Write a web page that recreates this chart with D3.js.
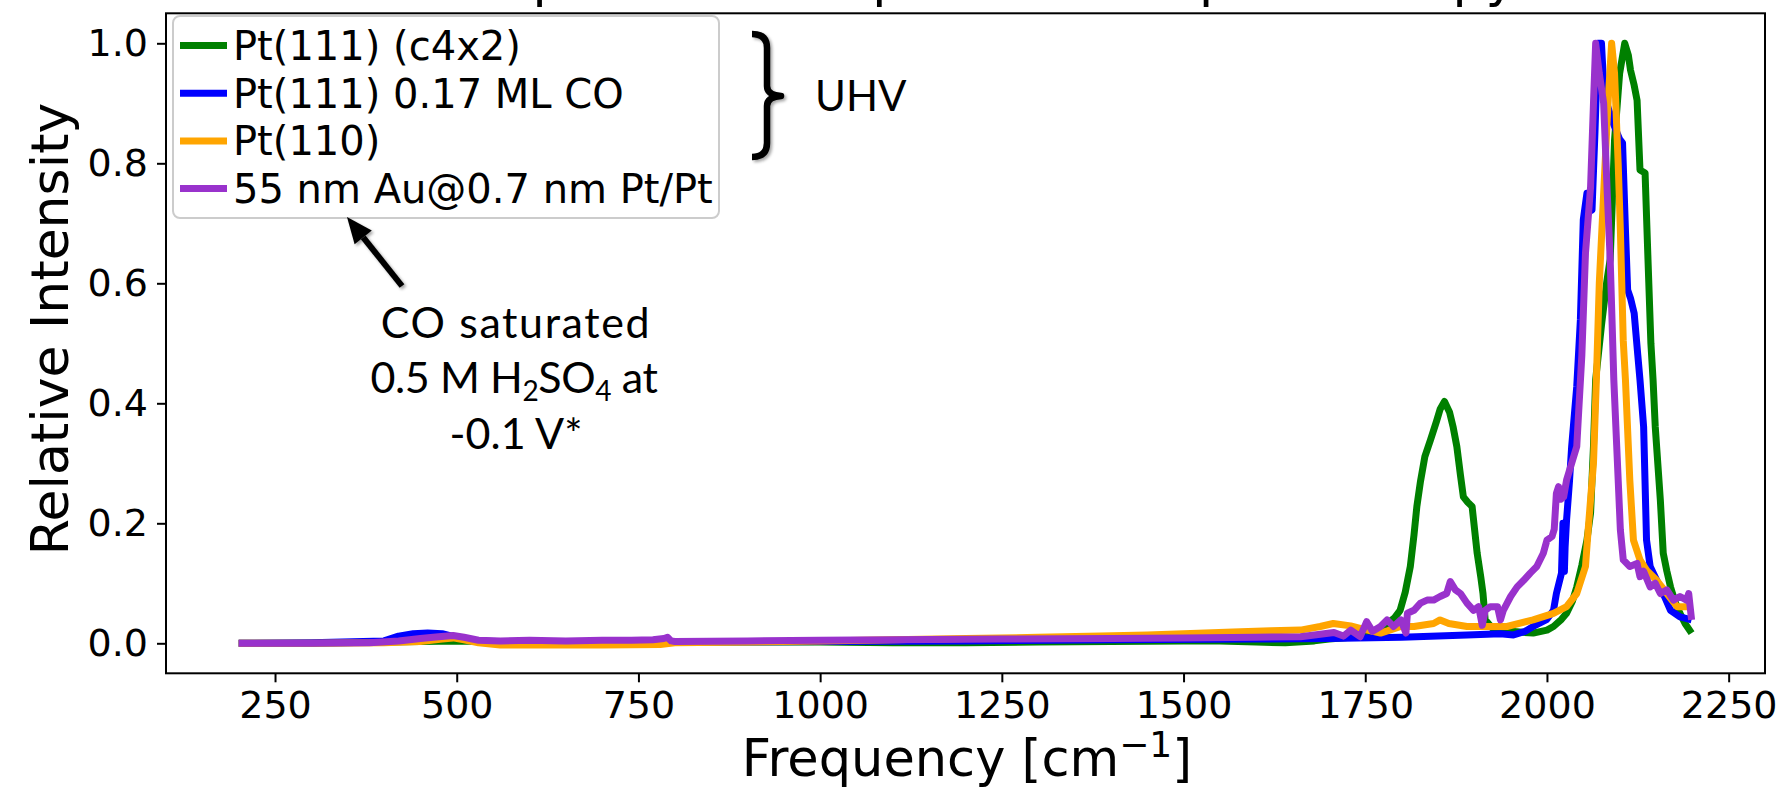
<!DOCTYPE html>
<html>
<head>
<meta charset="utf-8">
<script src="https://cdn.jsdelivr.net/npm/d3@7/dist/d3.min.js"></script>
<style>
  html, body { margin: 0; padding: 0; background: #fff; }
  svg { display: block; }
</style>
</head>
<body>
<svg id="chart" width="1782" height="797"></svg>
<script>
// Series: [frequency (cm^-1), relative intensity]
const c4x2Series = [
  [200,0],[300,0],[400,0.002],[450,0.003],[500,0.004],[550,0.003],[600,0.002],[700,0.002],
  [800,0.002],[900,0.002],[1000,0.002],[1100,0.001],[1200,0.001],[1300,0.002],[1400,0.003],
  [1500,0.004],[1550,0.004],[1600,0.002],[1640,0.001],[1680,0.004],[1700,0.007],[1730,0.010],
  [1752,0.014],[1775,0.028],[1790,0.042],[1798,0.055],[1805,0.085],[1812,0.128],[1817,0.18],
  [1821,0.228],[1826,0.27],[1832,0.311],[1840,0.34],[1848,0.37],[1853,0.39],[1859,0.403],
  [1866,0.385],[1871,0.36],[1876,0.328],[1881,0.28],[1885,0.244],[1891,0.235],[1897,0.228],
  [1904,0.15],[1909,0.11],[1912,0.083],[1915,0.039],[1925,0.025],[1950,0.02],[1981,0.017],
  [2000,0.022],[2009,0.028],[2020,0.04],[2027,0.05],[2035,0.07],[2041,0.094],[2048,0.13],
  [2055,0.172],[2060,0.217],[2064,0.328],[2067,0.439],[2075,0.53],[2082,0.6],[2087,0.64],
  [2093,0.839],[2100,0.95],[2107,1.0],[2112,0.98],[2115,0.955],[2120,0.93],[2124,0.905],
  [2128,0.789],[2135,0.784],[2139,0.64],[2143,0.5],[2146,0.439],[2149,0.361],[2156,0.239],
  [2160,0.15],[2165,0.12],[2170,0.094],[2176,0.07],[2183,0.05],[2190,0.033],[2199,0.017]
];

const lowCovSeries = [
  [200,0],[300,0.001],[400,0.004],[420,0.012],[440,0.016],[460,0.017],[480,0.016],[500,0.01],
  [520,0.004],[600,0.002],[800,0.002],[1000,0.003],[1200,0.004],[1400,0.006],[1600,0.007],
  [1700,0.008],[1800,0.01],[1890,0.014],[1936,0.016],[1954,0.014],[1970,0.02],[1981,0.028],
  [2000,0.04],[2009,0.055],[2013,0.083],[2020,0.117],[2022,0.2],[2024,0.12],[2025,0.161],
  [2027,0.206],[2031,0.27],[2034,0.328],[2041,0.428],[2046,0.539],[2050,0.706],[2055,0.75],
  [2062,0.722],[2066,0.85],[2070,1.0],[2075,1.0],[2078,0.93],[2081,0.905],[2090,0.87],
  [2100,0.84],[2104,0.834],[2108,0.689],[2111,0.589],[2115,0.575],[2120,0.55],[2125,0.48],
  [2128,0.439],[2133,0.361],[2137,0.172],[2142,0.128],[2151,0.105],[2160,0.083],[2170,0.055],
  [2183,0.044],[2199,0.039]
];

const pt110Series = [
  [200,0],[300,0],[400,0.001],[450,0.003],[480,0.007],[495,0.009],[510,0.006],[530,0.001],
  [560,-0.003],[600,-0.003],[700,-0.003],[780,-0.002],[800,0.001],[900,0.002],[1000,0.004],
  [1100,0.006],[1200,0.008],[1300,0.01],[1386,0.012],[1450,0.014],[1500,0.016],[1568,0.019],
  [1620,0.021],[1661,0.022],[1688,0.028],[1706,0.033],[1730,0.029],[1743,0.025],[1771,0.017],
  [1799,0.028],[1817,0.028],[1844,0.033],[1853,0.039],[1865,0.033],[1890,0.028],[1913,0.028],
  [1945,0.028],[1981,0.039],[2009,0.05],[2027,0.061],[2041,0.083],[2053,0.128],[2057,0.194],
  [2064,0.3],[2068,0.44],[2072,0.6],[2078,0.75],[2084,0.9],[2089,1.0],[2093,0.95],[2098,0.8],
  [2101,0.689],[2105,0.504],[2108,0.439],[2114,0.272],[2119,0.172],[2128,0.139],[2137,0.122],
  [2151,0.105],[2165,0.083],[2179,0.061],[2199,0.061]
];

const auPtSeries = [
  [200,0],[300,0],[380,0.001],[420,0.004],[450,0.008],[475,0.011],[495,0.013],[510,0.01],
  [530,0.005],[560,0.004],[600,0.005],[650,0.004],[700,0.005],[740,0.005],[770,0.006],
  [785,0.008],[790,0.01],[795,0.004],[800,0.003],[900,0.004],[1000,0.005],[1100,0.006],
  [1250,0.007],[1400,0.008],[1500,0.009],[1600,0.01],[1661,0.011],[1707,0.018],[1720,0.012],
  [1730,0.022],[1743,0.011],[1752,0.036],[1760,0.02],[1771,0.028],[1780,0.039],[1789,0.028],
  [1799,0.039],[1806,0.017],[1808,0.05],[1817,0.055],[1826,0.067],[1835,0.072],[1844,0.072],
  [1853,0.078],[1862,0.083],[1867,0.103],[1874,0.089],[1881,0.083],[1890,0.067],[1899,0.055],
  [1906,0.061],[1911,0.03],[1915,0.055],[1922,0.061],[1932,0.061],[1936,0.039],[1940,0.055],
  [1950,0.078],[1959,0.094],[1968,0.105],[1977,0.117],[1986,0.128],[1995,0.15],[2000,0.172],
  [2007,0.178],[2010,0.19],[2013,0.25],[2016,0.261],[2019,0.24],[2023,0.244],[2027,0.272],
  [2034,0.3],[2041,0.328],[2043,0.372],[2048,0.48],[2053,0.65],[2060,0.76],[2064,0.9],
  [2067,1.0],[2072,0.95],[2078,0.9],[2083,0.75],[2087,0.64],[2092,0.439],[2096,0.328],
  [2101,0.189],[2105,0.139],[2114,0.128],[2124,0.133],[2128,0.111],[2133,0.12],[2142,0.094],
  [2149,0.1],[2156,0.083],[2165,0.089],[2174,0.072],[2183,0.078],[2192,0.072],[2195,0.083],
  [2199,0.039]
];

const seriesNames = ["Pt(111) (c4x2)", "Pt(111) 0.17 ML CO", "Pt(110)", "55 nm Au@0.7 nm Pt/Pt"];
const seriesColors = ["green", "blue", "orange", "darkorchid"];
const seriesData = [c4x2Series, lowCovSeries, pt110Series, auPtSeries];

const xTicks = [250, 500, 750, 1000, 1250, 1500, 1750, 2000, 2250];
const yTicks = [0.0, 0.2, 0.4, 0.6, 0.8, 1.0];

const svg = d3.select("#chart");

const x = d3.scaleLinear().domain([100, 2300]).range([166, 1765]);
const y = d3.scaleLinear().domain([-0.05, 1.05]).range([673.3, 13.3]);

const defs = svg.append("defs");
defs.append("clipPath").attr("id", "plotClip")
  .append("rect")
  .attr("x", x.range()[0]).attr("y", y.range()[1])
  .attr("width", x.range()[1] - x.range()[0])
  .attr("height", y.range()[0] - y.range()[1]);

const shadow = defs.append("filter").attr("id", "softShadow")
  .attr("x", "-50%").attr("y", "-50%").attr("width", "200%").attr("height", "200%");
shadow.append("feDropShadow")
  .attr("dx", 2).attr("dy", 2).attr("stdDeviation", 1.6)
  .attr("flood-color", "#000").attr("flood-opacity", 0.35);

// Heading, mostly above the top edge of the figure
svg.append("text")
  .attr("x", 965).attr("y", -4)
  .attr("text-anchor", "middle")
  .attr("font-family", "DejaVu Sans")
  .attr("font-size", 52)
  .text("Comparison to experimental spectroscopy");

// Spectra
const line = d3.line().x(d => x(d[0])).y(d => y(d[1]));
const plot = svg.append("g").attr("clip-path", "url(#plotClip)");
seriesData.forEach((s, i) => {
  plot.append("path")
    .datum(s)
    .attr("d", line)
    .attr("fill", "none")
    .attr("stroke", seriesColors[i])
    .attr("stroke-width", 7)
    .attr("stroke-linejoin", "round")
    .attr("stroke-linecap", "butt");
});

// Axes
const xAxis = d3.axisBottom(x).tickValues(xTicks).tickSize(9).tickPadding(9).tickFormat(d3.format("d"));
const yAxis = d3.axisLeft(y).tickValues(yTicks).tickSize(9).tickPadding(9).tickFormat(d3.format(".1f"));

const gx = svg.append("g").attr("transform", `translate(0,${y.range()[0]})`).call(xAxis);
const gy = svg.append("g").attr("transform", `translate(${x.range()[0]},0)`).call(yAxis);
[gx, gy].forEach(g => {
  g.select(".domain").remove();
  g.selectAll(".tick line").attr("stroke", "#000").attr("stroke-width", 2);
  g.selectAll(".tick text")
    .attr("font-family", "DejaVu Sans")
    .attr("font-size", 38)
    .attr("fill", "#000");
});

// Frame
svg.append("rect")
  .attr("x", x.range()[0]).attr("y", y.range()[1])
  .attr("width", x.range()[1] - x.range()[0])
  .attr("height", y.range()[0] - y.range()[1])
  .attr("fill", "none").attr("stroke", "#000").attr("stroke-width", 2);

// Axis labels
const xl = svg.append("text")
  .attr("x", 967).attr("y", 776)
  .attr("text-anchor", "middle")
  .attr("font-family", "DejaVu Sans")
  .attr("font-size", 51);
xl.append("tspan").text("Frequency [cm");
xl.append("tspan").attr("font-size", 36).attr("dy", -19).text("\u22121");
xl.append("tspan").attr("dy", 19).text("]");

svg.append("text")
  .attr("transform", "translate(68,329) rotate(-90)")
  .attr("text-anchor", "middle")
  .attr("font-family", "DejaVu Sans")
  .attr("font-size", 52)
  .text("Relative Intensity");

// Legend
const legend = svg.append("g");
legend.append("rect")
  .attr("x", 173).attr("y", 16).attr("width", 546).attr("height", 202)
  .attr("rx", 7).attr("ry", 7)
  .attr("fill", "#fff").attr("fill-opacity", 0.8)
  .attr("stroke", "#cccccc").attr("stroke-width", 2);
seriesNames.forEach((name, i) => {
  const cy = 45.5 + i * 47.7;
  legend.append("line")
    .attr("x1", 180).attr("x2", 227).attr("y1", cy).attr("y2", cy)
    .attr("stroke", seriesColors[i]).attr("stroke-width", 7);
  legend.append("text")
    .attr("x", 233).attr("y", cy + 14.5)
    .attr("font-family", "DejaVu Sans")
    .attr("font-size", 40)
    .attr("fill", "#000")
    .text(name);
});

// UHV brace
svg.append("path")
  .attr("d", "M752,34 Q767,34 767,48 L767,86 Q767,95 781,96 Q767,97 767,106 L767,143 Q767,157 752,157")
  .attr("fill", "none").attr("stroke", "#000").attr("stroke-width", 6.5)
  .attr("stroke-linejoin", "round")
  .attr("filter", "url(#softShadow)");
svg.append("text")
  .attr("x", 815).attr("y", 111)
  .attr("font-family", "Lato")
  .attr("font-size", 42)
  .attr("fill", "#000")
  .text("UHV");

// Arrow pointing at the electrochemical spectrum entry
const arrow = svg.append("g").attr("filter", "url(#softShadow)");
const tail = [402, 286], tip = [347, 217];
const ang = Math.atan2(tip[1] - tail[1], tip[0] - tail[0]);
const headLen = 26, headHalf = 11;
const baseX = tip[0] - headLen * Math.cos(ang), baseY = tip[1] - headLen * Math.sin(ang);
arrow.append("line")
  .attr("x1", tail[0]).attr("y1", tail[1]).attr("x2", baseX).attr("y2", baseY)
  .attr("stroke", "#000").attr("stroke-width", 6);
arrow.append("path")
  .attr("d", `M${tip[0]},${tip[1]} L${baseX + headHalf * Math.sin(ang)},${baseY - headHalf * Math.cos(ang)} L${baseX - headHalf * Math.sin(ang)},${baseY + headHalf * Math.cos(ang)} Z`)
  .attr("fill", "#000");

// Condition note
const note = svg.append("g")
  .attr("font-family", "Lato")
  .attr("font-size", 43)
  .attr("fill", "#000")
  .attr("text-anchor", "middle");
note.append("text").attr("x", 516).attr("y", 338)
  .attr("letter-spacing", 1.6).text("CO saturated");
const l2 = note.append("text").attr("x", 514).attr("y", 393).attr("letter-spacing", -0.4);
l2.append("tspan").text("0.5 M H");
l2.append("tspan").attr("font-size", 28).attr("dy", 8).text("2");
l2.append("tspan").attr("dy", -8).text("SO");
l2.append("tspan").attr("font-size", 28).attr("dy", 8).text("4");
l2.append("tspan").attr("dy", -8).text(" at");
note.append("text").attr("x", 516).attr("y", 449).text("-0.1 V*");
</script>
</body>
</html>
